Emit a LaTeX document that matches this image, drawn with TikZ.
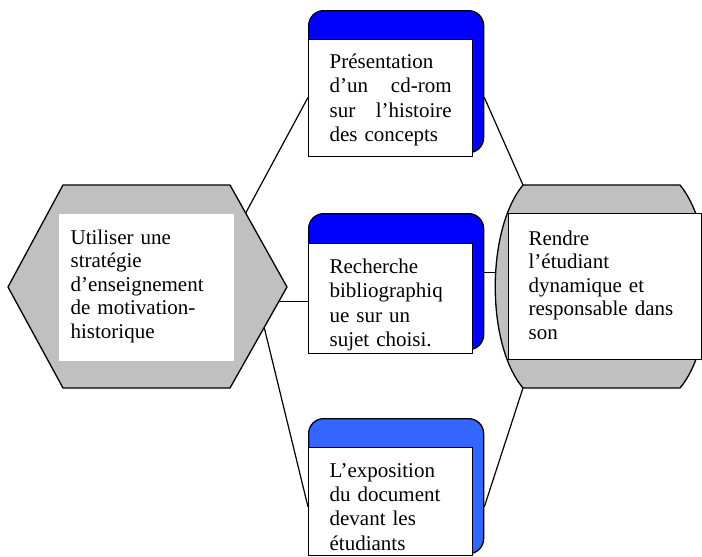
\documentclass[tikz,border=0pt]{standalone}
\usepackage{fontspec}
\setmainfont{Liberation Serif}
\usetikzlibrary{calc}
\definecolor{wblue}{HTML}{0000FF}
\definecolor{lblue}{HTML}{3366FF}
\definecolor{wgray}{HTML}{C0C0C0}
\begin{document}
\begin{tikzpicture}[x=1pt,y=-1pt,line width=1.3pt,
  outerbox/.style={draw, rounded corners=15pt, anchor=north west, inner sep=0pt, minimum width=175pt},
  whitebox/.style={draw, fill=white, anchor=north west, inner sep=0pt, minimum width=164pt},
  txt/.style={anchor=base west, inner sep=0pt, align=left, text width=#1},
  conn/.style={draw, line width=1.2pt},
  shapefill/.style={draw, fill=wgray}]
\useasboundingbox (0,0) rectangle (702,557);
% hexagon corners
\coordinate (h1) at (63,185);
\coordinate (h2) at (230,185);
\coordinate (h3) at (287,287);
\coordinate (h4) at (230,388);
\coordinate (h5) at (63,388);
\coordinate (h6) at (8,287);
% barrel corners
\coordinate (b1) at (523,185);
\coordinate (b2) at (680,185);
\coordinate (b3) at (680,388);
\coordinate (b4) at (523,388);
\coordinate (bw) at (495,287);
% blue boxes
\node[outerbox, fill=wblue, minimum height=142pt] (topout) at (308,10) {};
\node[whitebox, minimum height=117pt] (topin) at (308,39) {};
\node[outerbox, fill=wblue, minimum height=136pt] (midout) at (308,213) {};
\node[whitebox, minimum height=110pt] (midin) at (308,243) {};
\node[outerbox, fill=lblue, minimum height=135pt] (botout) at (308,418) {};
\node[whitebox, minimum height=108pt] (botin) at (308,447) {};
% connectors (behind the gray shapes)
\coordinate (c1) at ($(h2)!0.275!(h3)$);
\coordinate (c2) at ($(h3)!0.14!(h4)$);
\coordinate (c3) at ($(h3)!0.40!(h4)$);
\draw[conn] (c1) -- ($(topout.north west)!0.61!(topout.south west)$);
\draw[conn] (c2) -- (c2 -| midout.west);
\draw[conn] (c3) -- ($(botout.north west)!0.652!(botout.south west)$);
\coordinate (m1) at ($(midout.north east)!0.434!(midout.south east)$);
\draw[conn] ($(topout.north east)!0.61!(topout.south east)$) -- (b1);
\draw[conn] (m1) -- (bw |- m1);
\draw[conn] ($(botout.north east)!0.652!(botout.south east)$) -- (b4);
% hexagon
\draw[shapefill] (h1) -- (h2) -- (h3) -- (h4) -- (h5) -- (h6) -- cycle;
\node[fill=white, inner sep=0pt, anchor=north west, minimum width=175pt, minimum height=147pt] (hexin) at (58,213) {};
% barrel
\draw[shapefill] (b1) -- (b2) .. controls (717,230) and (717,344) .. (b3) -- (b4) .. controls (486,344) and (486,230) .. (b1) -- cycle;
\node[draw, fill=white, inner sep=0pt, anchor=north west, minimum width=193pt, minimum height=146pt] (barin) at (508,213) {};
% texts
\node[txt=122pt, font=\fontsize{21}{24.6}\selectfont] (ttop) at (329,68)
  {Présentation\\ d’un\hfill cd-rom\\ sur\hfill l’histoire\\ des concepts};
\node[txt=140pt, font=\fontsize{21}{24.6}\selectfont] (tmid) at (329,273)
  {Recherche\\ bibliographiq\\ ue sur un\\ sujet choisi.};
\node[txt=140pt, font=\fontsize{21}{24.4}\selectfont] (tbot) at (329,477)
  {L’exposition\\ du document\\ devant les\\ étudiants};
\node[txt=170pt, font=\fontsize{21}{23.5}\selectfont] (thex) at (70,244)
  {Utiliser une\\ stratégie\\ d’enseignement\\ de motivation-\\ historique};
\node[txt=170pt, font=\fontsize{21}{23.5}\selectfont] (tbar) at (528,245)
  {Rendre\\ l’étudiant\\ dynamique et\\ responsable dans\\ son};
\end{tikzpicture}
\end{document}
